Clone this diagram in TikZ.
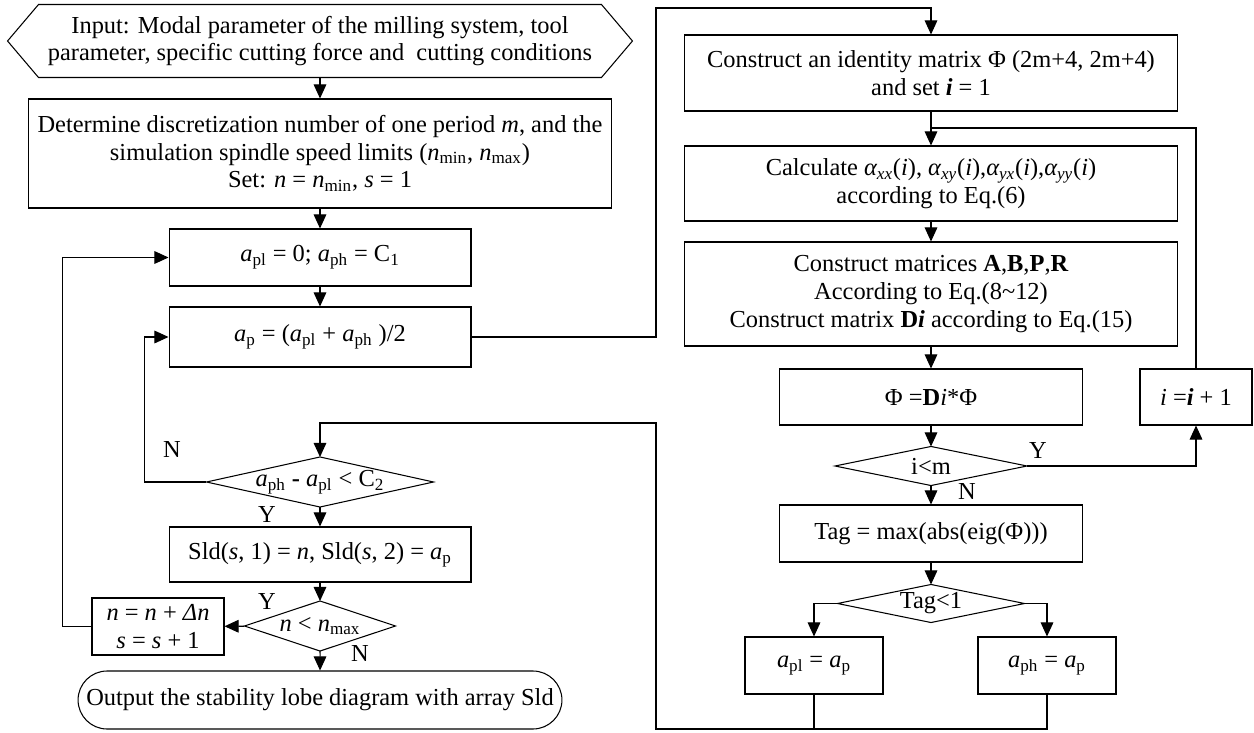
\documentclass[tikz,border=0pt]{standalone}
\usepackage{fontspec}
\setmainfont{Liberation Serif}
\usetikzlibrary{arrows.meta, calc, shapes.misc}
\newcommand{\dn}[1]{\textsubscript{#1}}

\begin{document}
\begin{tikzpicture}[x=0.02cm, y=-0.02cm, every path/.style={line width=0.6pt},
        box/.style={draw, rectangle, inner sep=2pt, align=center, font=\fontsize{13.9}{15.8}\selectfont},
        dec/.style={inner sep=0pt, align=center, font=\fontsize{13.9}{15.8}\selectfont},
        lab/.style={inner sep=0pt, font=\fontsize{13.9}{15.8}\selectfont},
        flow/.style={-{Triangle[length=8pt,width=7.2pt]}}]
    \useasboundingbox (0,0) rectangle (1254,733);
    % left column
    \node[dec, minimum width=12.48cm, minimum height=1.44cm] (in) at (320,41) {Input: Modal parameter of the milling system, tool\\parameter, specific cutting force and\ \ cutting conditions};
    \node[box, minimum width=11.68cm, minimum height=2.18cm] (det) at (320,153.5) {Determine discretization number of one period \textit{m}, and the\\simulation spindle speed limits (\textit{n}\dn{min}, \textit{n}\dn{max})\\Set: \textit{n} = \textit{n}\dn{min}, \textit{s} = 1};
    \node[box, minimum width=6.04cm, minimum height=1.14cm] (lim) at (320,257.5) {\textit{a}\dn{pl} = 0; \textit{a}\dn{ph} = C\dn{1}};
    \node[box, minimum width=6.04cm, minimum height=1.2cm] (mid) at (320,337) {\textit{a}\dn{p} = (\textit{a}\dn{pl} + \textit{a}\dn{ph} )/2};
    \node[dec, minimum width=4.52cm, minimum height=0.98cm] (chk) at (320,482) {\textit{a}\dn{ph} \textbf{-} \textit{a}\dn{pl} < C\dn{2}};
    \node[box, minimum width=6.04cm, minimum height=1.1cm] (sld) at (320,554.5) {Sld(\textit{s}, 1) = \textit{n}, Sld(\textit{s}, 2) = \textit{a}\dn{p}};
    \node[dec, minimum width=3cm, minimum height=0.98cm] (nck) at (320,626) {\textit{n} < \textit{n}\dn{max}};
    \node[box, minimum width=2.64cm, minimum height=1.14cm] (inc) at (158,626.5) {\textit{n} = \textit{n} + \textit{Δn}\\\textit{s} = \textit{s} + 1};
    \node[box, rounded rectangle, minimum width=9.82cm, minimum height=1.16cm] (out) at (320,700) {Output the stability lobe diagram with array Sld};
    % right column
    \node[box, minimum width=9.86cm, minimum height=1.52cm] (id) at (931,73) {Construct an identity matrix Φ (2m+4, 2m+4)\\and set \textit{\textbf{i}} = 1};
    \node[box, minimum width=9.86cm, minimum height=1.5cm] (calc) at (931,183.5) {Calculate \textit{α\dn{xx}}(\textit{i}), \textit{α\dn{xy}}(\textit{i}),\textit{α\dn{yx}}(\textit{i}),\textit{α\dn{yy}}(\textit{i})\\according to Eq.(6)};
    \node[box, minimum width=9.86cm, minimum height=2.08cm] (mat) at (931,294) {Construct matrices \textbf{A},\textbf{B},\textbf{P},\textbf{R}\\According to Eq.(8\textasciitilde12)\\Construct matrix \textbf{D\textit{i}} according to Eq.(15)};
    \node[box, minimum width=6.06cm, minimum height=1.12cm] (phi) at (931,397) {Φ =\textbf{D}\textit{i}*Φ};
    \node[box, minimum width=2.24cm, minimum height=1.12cm] (iinc) at (1196,397) {\textit{i} =\textit{\textbf{i}} + 1};
    \node[dec, minimum width=3.82cm, minimum height=0.76cm] (ick) at (931,466) {i<m};
    \node[box, minimum width=6.06cm, minimum height=1.14cm] (tag) at (931,533.5) {Tag = max(abs(eig(Φ)))};
    \node[dec, minimum width=3.72cm, minimum height=0.74cm] (tck) at (931,603.5) {Tag<1};
    \node[box, minimum width=2.76cm, minimum height=1.14cm] (lo) at (814,665.5) {\textit{a}\dn{pl} = \textit{a}\dn{p}};
    \node[box, minimum width=2.76cm, minimum height=1.14cm] (hi) at (1047,665.5) {\textit{a}\dn{ph} = \textit{a}\dn{p}};
    % outlines
    \draw (in.west) -- ($(in.north west)+(31,0)$) -- ($(in.north east)+(-31,0)$) -- (in.east)
        -- ($(in.south east)+(-31,0)$) -- ($(in.south west)+(31,0)$) -- cycle;
    \foreach \d in {chk, nck, ick, tck}
        \draw (\d.north) -- (\d.east) -- (\d.south) -- (\d.west) -- cycle;
    % labels
    \node[lab] (n1) at (172,450) {N};
    \node[lab] (y1) at (267,515) {Y};
    \node[lab] (y2) at (267,602) {Y};
    \node[lab] (n2) at (360,653) {N};
    \node[lab] (y3) at (1038,451) {Y};
    \node[lab] (n3) at (967,492) {N};
    \coordinate (up) at (656,8);
    \coordinate (back) at (656,729);
    \coordinate (turn) at (656,423);
    \coordinate (join) at (931,128);
    % connectors
    \draw[flow] (in) -- (det);
    \draw[flow] (det) -- (lim);
    \draw[flow] (lim) -- (mid);
    \draw[flow] (chk) -- (sld);
    \draw[flow] (sld) -- (nck);
    \draw[flow] (nck) -- (out);
    \draw[flow] (nck) -- (inc);
    \draw[flow] (inc.west) -- ++(-29,0) |- (lim.west);
    \draw[flow] (chk.west) -- ++(-62,0) |- (mid.west);
    \draw[flow] (mid.east) -| (up) -| (id.north);
    \draw[flow] (id) -- (calc);
    \draw[flow] (calc) -- (mat);
    \draw[flow] (mat) -- (phi);
    \draw[flow] (phi) -- (ick);
    \draw[flow] (ick.east) -| (iinc.south);
    \draw (iinc.north) |- (join);
    \draw[flow] (ick) -- (tag);
    \draw[flow] (tag) -- (tck);
    \draw[flow] (tck.west) -| (lo.north);
    \draw[flow] (tck.east) -| (hi.north);
    \draw (lo.south) -- (lo.south |- back);
    \draw[flow] (hi.south) |- (back) -- (turn) -| (chk.north);
\end{tikzpicture}
\end{document}
